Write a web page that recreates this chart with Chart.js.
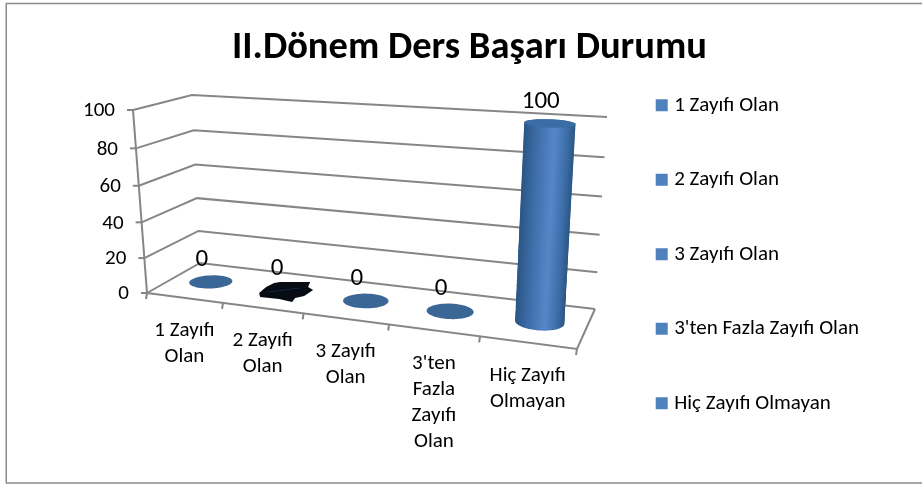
<!DOCTYPE html>
<html><head><meta charset="utf-8">
<style>html,body{margin:0;padding:0;background:#fff}#w{position:relative;width:922px;height:484px}</style>
<script src="https://cdn.jsdelivr.net/npm/chart.js@4/dist/chart.umd.min.js"></script>
</head><body><div id="w"><canvas id="c" width="922" height="484"></canvas></div>
<script>
const categories = ["1 Zayıfı Olan","2 Zayıfı Olan","3 Zayıfı Olan","3'ten Fazla Zayıfı Olan","Hiç Zayıfı Olmayan"];
const xTickLines = [["1 Zayıfı","Olan"],["2 Zayıfı","Olan"],["3 Zayıfı","Olan"],["3'ten","Fazla","Zayıfı","Olan"],["Hiç Zayıfı","Olmayan"]];
const seriesValues = [0,0,0,0,100];
const capColors = ["#3b6797","#060b14","#3b6797","#3b6797","#3a6ca5"];
const titleText = "II.Dönem Ders Başarı Durumu";

const FONT = "Carlito, Calibri, Lato, 'Open Sans', sans-serif";
const GRID = "#868686";
// 3D box as seen on screen: floor corners, and the rise of each corner from value 0 to the axis maximum
const floorQ = {fl:[147,293],fr:[577,349],br:[595,309],bl:[200,263]};
const riseQ  = {fl:[-14,-183],fr:[13,-211],br:[12,-192],bl:[-8,-168]};

function homography(q){
  const [x0,y0]=q.fl,[x1,y1]=q.fr,[x2,y2]=q.br,[x3,y3]=q.bl;
  const dx1=x1-x2,dx2=x3-x2,sx=x0-x1+x2-x3,dy1=y1-y2,dy2=y3-y2,sy=y0-y1+y2-y3;
  const d=dx1*dy2-dx2*dy1,g=(sx*dy2-dx2*sy)/d,h=(dx1*sy-sx*dy1)/d;
  const a=x1-x0+g*x1,b=x3-x0+h*x3,c=x0,e=y1-y0+g*y1,f=y3-y0+h*y3,i=y0;
  return (u,w)=>{const t=g*u+h*w+1;return [(a*u+b*w+c)/t,(e*u+f*w+i)/t];};
}
const Hf=homography(floorQ);
function rise(u,w,k){return (1-w)*((1-u)*riseQ.fl[k]+u*riseQ.fr[k])+w*((1-u)*riseQ.bl[k]+u*riseQ.br[k]);}
function project(u,v,w){const a=Hf(u,w),p=v/(1+0.06*(1-v));return [a[0]+rise(u,w,0)*p,a[1]+rise(u,w,1)*p];}
const DW=0.2;

function ellipse(ctx,u,v,du){
  ctx.beginPath();
  for(let i=0;i<48;i++){const t=i/48*2*Math.PI;
    const p=project(u+du*Math.cos(t),v,0.5+DW*Math.sin(t));
    i?ctx.lineTo(p[0],p[1]):ctx.moveTo(p[0],p[1]);}
  ctx.closePath();
}
const SMUDGE=[[-27,2],[-20,-4],[-12,-8],[-6,-9],[24,-9],[22,-4],[27,-1],[18,5],[9,7],[6,11],[-7,8],[-26,6]];

class CylinderController extends Chart.BarController{
  draw(){
    const chart=this.chart,ctx=chart.ctx,area=chart.chartArea,meta=this._cachedMeta,ds=this.getDataset();
    const toU=px=>(px-area.left)/(area.right-area.left);
    const toV=py=>(area.bottom-py)/(area.bottom-area.top);
    ctx.save();
    meta.data.forEach((el,i)=>{
      const p=el.getProps(['x','y','base','width'],true);
      const u=toU(p.x),v1=toV(p.y),v0=toV(p.base),du=p.width/2/(area.right-area.left);
      const col=ds.capColors[i];
      if(v1-v0>0.001){
        const a=project(u,v0,.5),b=project(u,v1,.5);
        const n=Math.ceil(Math.abs(a[1]-b[1]));
        for(let k=0;k<=n;k++){
          const v=v0+(v1-v0)*k/n,l=project(u-du,v,.5),r=project(u+du,v,.5);
          const g=ctx.createLinearGradient(l[0],0,r[0],0);
          g.addColorStop(0,"#2b5685");g.addColorStop(.25,"#3d6da8");g.addColorStop(.6,"#5587c8");g.addColorStop(.85,"#3d6da8");g.addColorStop(1,"#2b5685");
          ctx.fillStyle=g;ellipse(ctx,u,v,du);ctx.fill();
        }
        ctx.fillStyle=col;ellipse(ctx,u,v1,du);ctx.fill();
      } else if(i===1){
        const c=project(u,v0,.5);
        ctx.fillStyle=col;ctx.beginPath();
        SMUDGE.forEach((o,j)=>{j?ctx.lineTo(c[0]+o[0],c[1]+o[1]):ctx.moveTo(c[0]+o[0],c[1]+o[1]);});
        ctx.closePath();ctx.fill();
        ctx.strokeStyle="#12263f";ctx.lineWidth=1;ctx.beginPath();ctx.moveTo(c[0]-18,c[1]+1);ctx.lineTo(c[0]+14,c[1]-3);ctx.stroke();
      } else {
        ctx.fillStyle=col;ellipse(ctx,u,v0,du);ctx.fill();
      }
      const top=project(u,v1,.5);
      ctx.fillStyle="#000";ctx.font="25px "+FONT;ctx.textAlign="center";ctx.textBaseline="middle";
      ctx.fillText(String(ds.data[i]),top[0]-9,top[1]-22);
    });
    ctx.restore();
  }
}
CylinderController.id='cylinder';
CylinderController.defaults=Chart.BarController.defaults;
Chart.register(CylinderController);

const box3d={id:'box3d',
  beforeDraw(chart){
    const ctx=chart.ctx,ys=chart.scales.y,xs=chart.scales.x,area=chart.chartArea;
    ctx.save();
    ctx.fillStyle="#fff";ctx.fillRect(0,0,922,484);
    ctx.strokeStyle="#8c8c8c";ctx.lineWidth=1.5;ctx.strokeRect(6.25,3.5,930,479.5);
    ctx.strokeStyle=GRID;ctx.lineWidth=2;
    const line=(pts)=>{ctx.beginPath();pts.forEach((p,i)=>i?ctx.lineTo(p[0],p[1]):ctx.moveTo(p[0],p[1]));ctx.stroke();};
    ctx.font="21px "+FONT;ctx.fillStyle="#000";ctx.textAlign="right";ctx.textBaseline="middle";
    ys.ticks.forEach(t=>{
      const v=(area.bottom-ys.getPixelForValue(t.value))/(area.bottom-area.top);
      line([project(0,v,0),project(0,v,1),project(1,v,1)]);
      const f=project(0,v,0);
      line([[f[0]-6,f[1]],f]);
      ctx.fillText(t.label,f[0]-18,f[1]+1);
    });
    line([project(0,0,0),project(0,1,0)]);
    line([project(0,0,0),project(1,0,0),project(1,0,1)]);
    const w=xs.getPixelForValue(1)-xs.getPixelForValue(0);
    for(let i=0;i<=categories.length;i++){
      const u=(xs.getPixelForValue(0)-w/2+i*w-area.left)/(area.right-area.left);
      const f=project(u,0,0);
      line([f,[f[0]-1,f[1]+6]]);
    }
    ctx.font="21px "+FONT;ctx.textAlign="center";ctx.textBaseline="middle";
    categories.forEach((t,i)=>{
      const u=(xs.getPixelForValue(i)-area.left)/(area.right-area.left);
      const f=project(u,0,0);
      xTickLines[i].forEach((s,k)=>ctx.fillText(s,f[0],f[1]+33+k*26));
    });
    ctx.restore();
  }
};

new Chart(document.getElementById('c'),{
  type:'cylinder',
  data:{labels:categories,datasets:[{label:'Seri',data:seriesValues,capColors:capColors,backgroundColor:"#4f81bd",barPercentage:.55,categoryPercentage:.95,clip:false}]},
  options:{responsive:false,animation:false,
    layout:{padding:{left:70,right:53,top:25,bottom:0.5}},
    scales:{
      x:{type:'category',display:false,grid:{display:false},ticks:{autoSkip:false}},
      y:{type:'linear',display:false,min:0,max:100,ticks:{stepSize:20},grid:{display:false}}
    },
    plugins:{
      title:{display:true,text:titleText,color:"#000",font:{family:FONT,size:38.5,weight:'bold',lineHeight:1.2},padding:{top:0,bottom:-14.5}},
      tooltip:{enabled:false},
      legend:{display:true,position:'right',align:'center',
        labels:{font:{family:FONT,size:21},color:"#000",boxWidth:4,boxHeight:4,padding:53.5,
          generateLabels(){return categories.map((c,i)=>({text:c,fillStyle:"#4f81bd",strokeStyle:"#4f81bd",lineWidth:8,hidden:false,index:i,datasetIndex:0}));}}
      }
    }
  },
  plugins:[box3d]
});
</script></body></html>
